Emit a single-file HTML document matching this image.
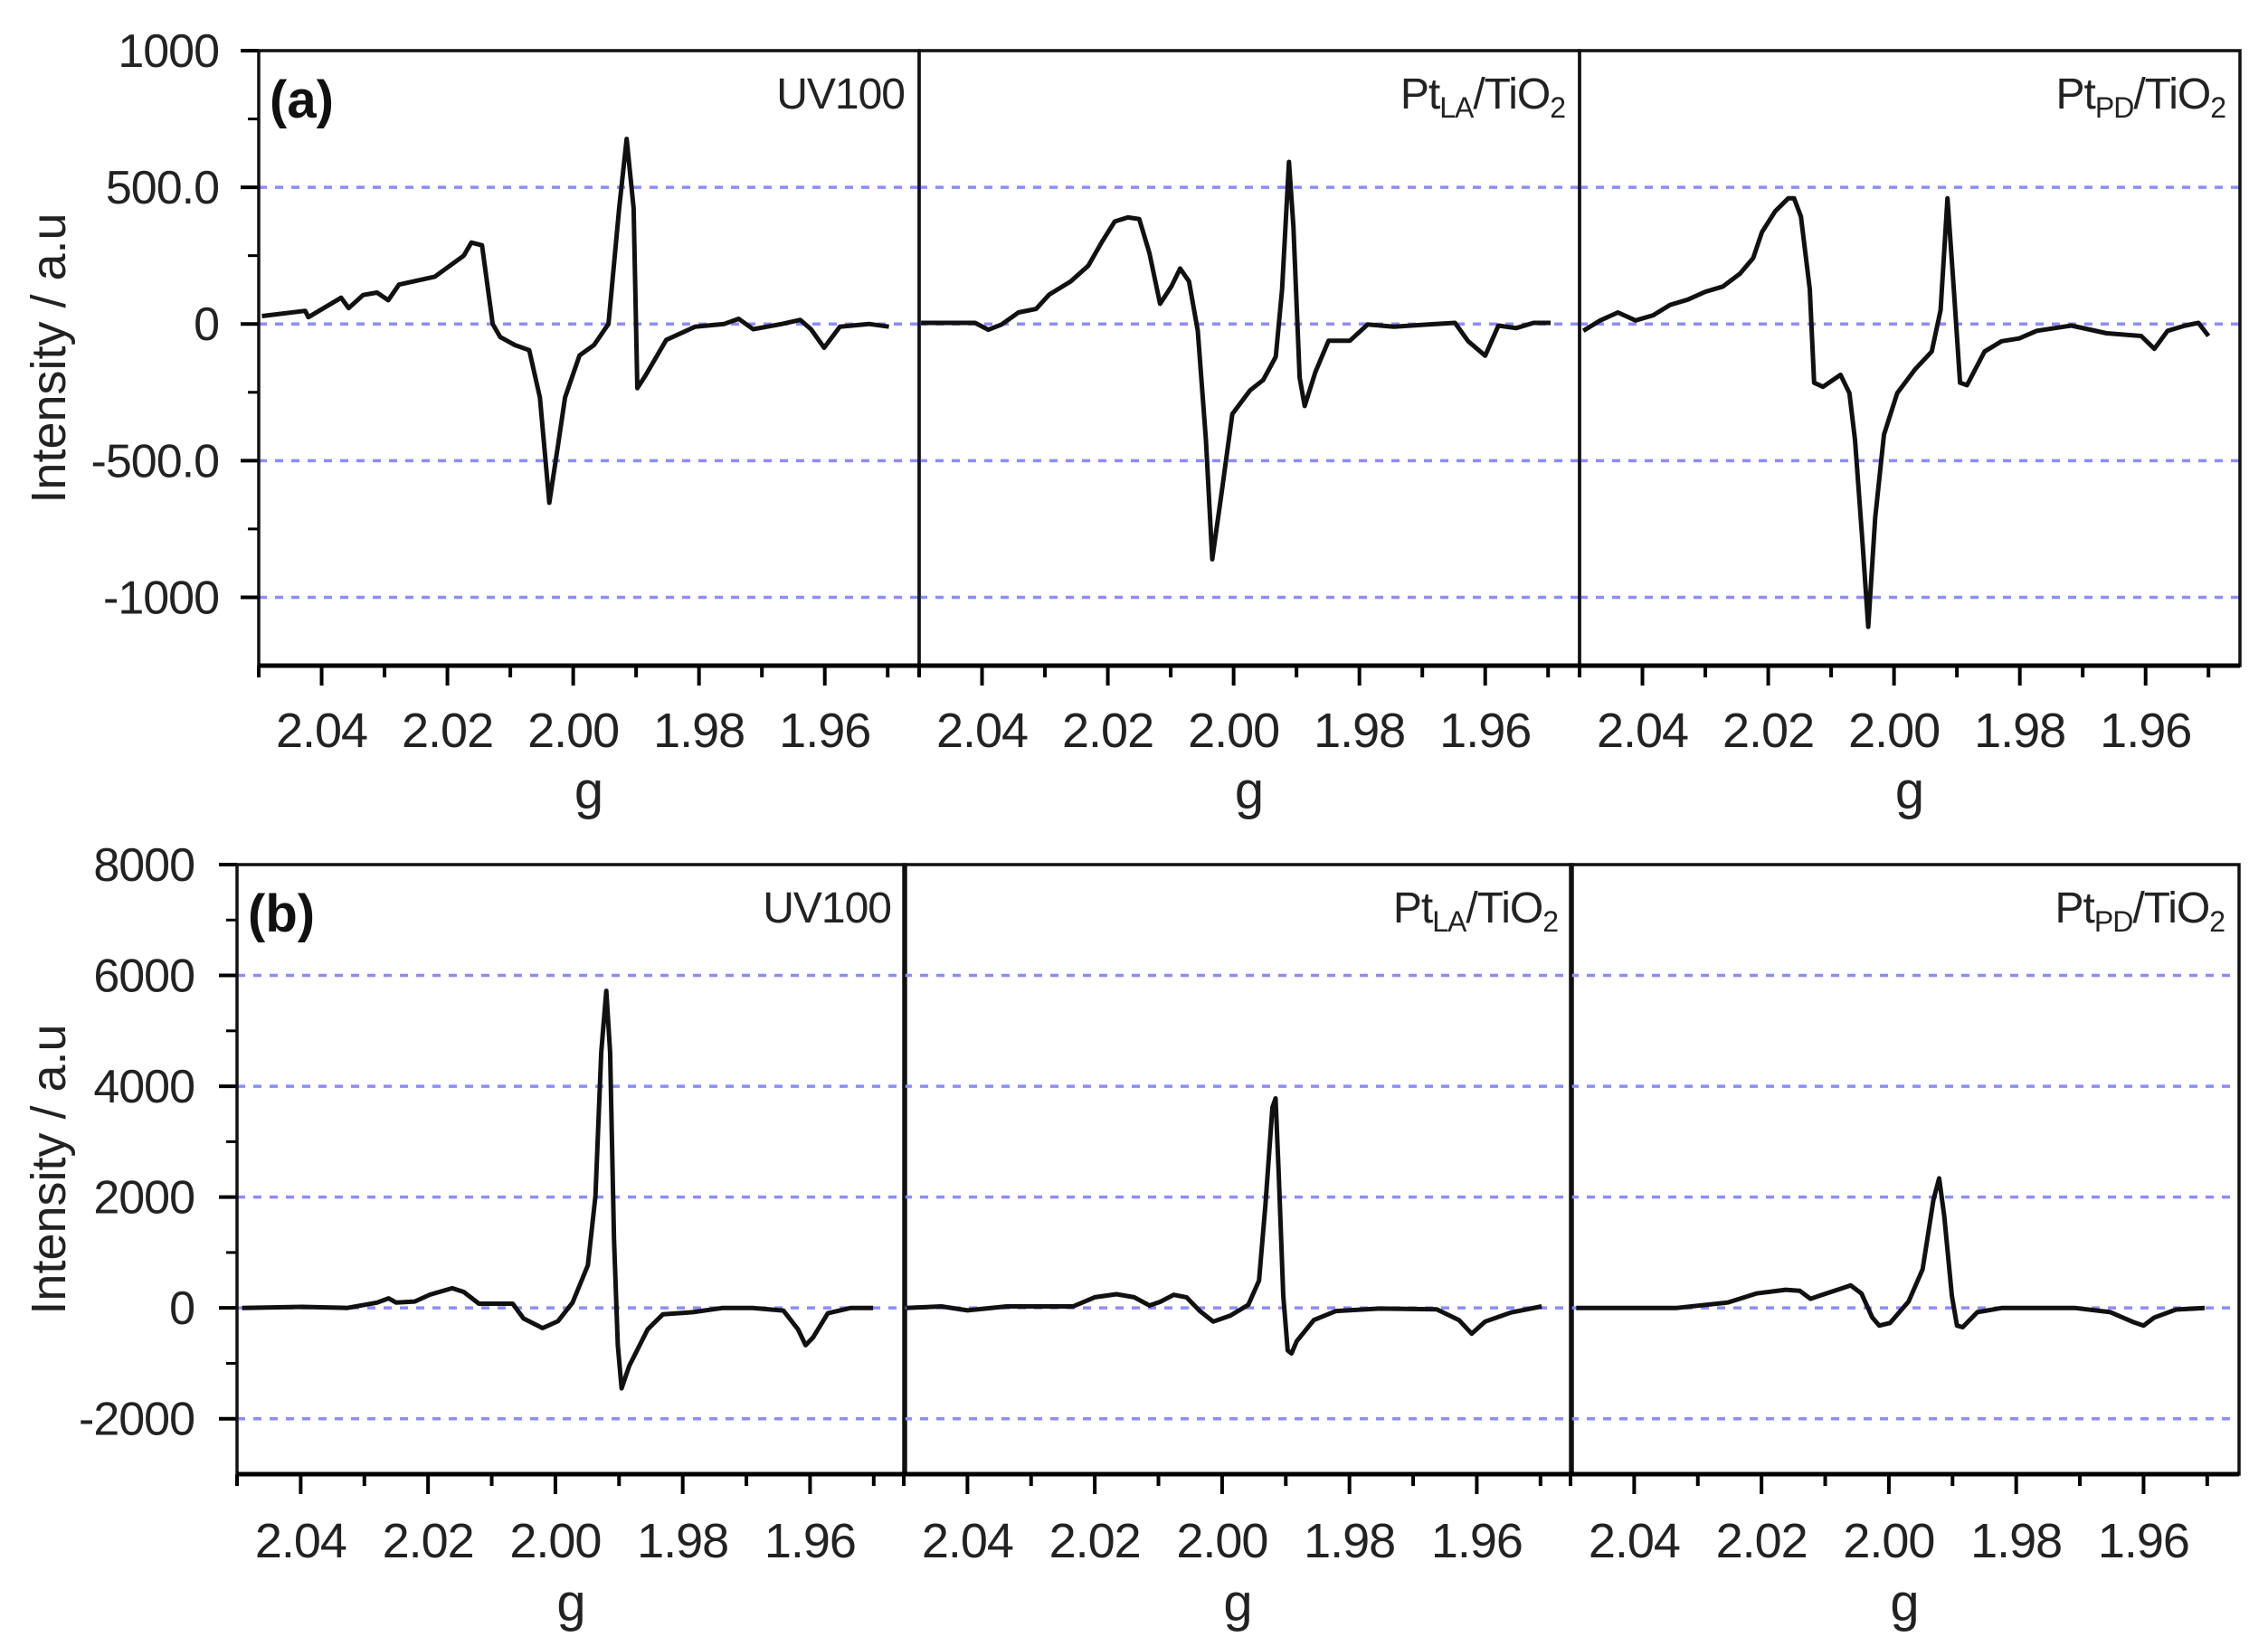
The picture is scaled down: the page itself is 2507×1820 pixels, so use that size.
<!DOCTYPE html>
<html><head><meta charset="utf-8"><style>
html,body{margin:0;padding:0;background:#fff;}
svg{display:block;font-family:"Liberation Sans",Arial,sans-serif;}
</style></head><body>
<svg id="fig" width="2507" height="1820" viewBox="0 0 2507 1820" xmlns="http://www.w3.org/2000/svg"></svg>
<script>
// ---- data ----
const gTicks = [2.04, 2.02, 2.00, 1.98, 1.96];
const gTickLabels = ["2.04", "2.02", "2.00", "1.98", "1.96"];
const aYTicks = [1000, 500, 0, -500, -1000];
const aYTickLabels = ["1000", "500.0", "0", "-500.0", "-1000"];
const aGrid = [500, 0, -500, -1000];
const bYTicks = [8000, 6000, 4000, 2000, 0, -2000];
const bYTickLabels = ["8000", "6000", "4000", "2000", "0", "-2000"];
const bGrid = [6000, 4000, 2000, 0, -2000];
const sampleNames = ["UV100", "PtLA", "PtPD"];

const aUV100_g = [2.0495,2.0426,2.0421,2.0369,2.0357,2.0334,2.0312,2.0294,2.0277,2.0220,2.0174,2.0162,2.0145,2.0128,2.0116,2.0093,2.0070,2.0053,2.0038,2.0024,2.0013,1.9990,1.9967,1.9944,1.9927,1.9915,1.9904,1.9898,1.9886,1.9852,1.9806,1.9760,1.9737,1.9714,1.9668,1.9639,1.9622,1.9601,1.9576,1.9530,1.9498];
const aUV100_v = [29,48,25,96,58,106,115,87,144,173,250,298,288,0,-48,-77,-96,-269,-654,-442,-269,-115,-77,0,423,677,423,-235,-192,-58,-10,0,19,-19,0,15,-19,-87,-10,0,-10];
const aPtLA_g = [2.0497,2.0411,2.0390,2.0369,2.0342,2.0314,2.0293,2.0259,2.0231,2.0210,2.0189,2.0168,2.0150,2.0134,2.0117,2.0099,2.0085,2.0071,2.0057,2.0044,2.0034,2.0020,2.0002,1.9974,1.9953,1.9933,1.9923,1.9912,1.9905,1.9895,1.9887,1.9870,1.9849,1.9815,1.9787,1.9745,1.9690,1.9648,1.9627,1.9600,1.9579,1.9551,1.9523,1.9496];
const aPtLA_v = [4,4,-21,-2,42,55,108,156,213,298,375,390,384,260,74,137,203,156,-25,-424,-861,-633,-329,-243,-205,-120,127,593,357,-196,-300,-176,-61,-61,-2,-10,-2,4,-63,-116,-6,-15,4,4];
const aPtPD_g = [2.0494,2.0467,2.0439,2.0411,2.0383,2.0356,2.0328,2.0300,2.0272,2.0245,2.0224,2.0210,2.0189,2.0168,2.0159,2.0148,2.0134,2.0127,2.0113,2.0085,2.0071,2.0062,2.0050,2.0041,2.0030,2.0016,1.9995,1.9967,1.9940,1.9926,1.9915,1.9905,1.9895,1.9884,1.9856,1.9829,1.9801,1.9773,1.9718,1.9662,1.9607,1.9586,1.9565,1.9537,1.9516,1.9500];
const aPtPD_v = [-25,13,42,13,32,70,89,118,137,184,241,336,412,460,460,393,127,-215,-230,-186,-253,-424,-805,-1108,-709,-405,-253,-167,-101,51,460,127,-215,-224,-101,-63,-53,-25,-6,-34,-44,-91,-25,-6,4,-44];

const bUV100_g = [2.0492,2.0398,2.0327,2.0280,2.0262,2.0250,2.0221,2.0197,2.0162,2.0144,2.0120,2.0067,2.0050,2.0020,1.9996,1.9973,1.9949,1.9937,1.9928,1.9920,1.9914,1.9908,1.9902,1.9896,1.9884,1.9855,1.9831,1.9784,1.9737,1.9690,1.9642,1.9619,1.9607,1.9595,1.9572,1.9536,1.9501];
const bUV100_v = [0,19,0,96,173,96,115,240,356,288,77,77,-192,-365,-240,96,769,2019,4615,5721,4615,1250,-673,-1452,-1048,-385,-115,-77,0,0,-48,-385,-673,-529,-96,0,0];
const bPtLA_g = [2.0496,2.0441,2.0400,2.0338,2.0234,2.0200,2.0166,2.0138,2.0114,2.0097,2.0076,2.0056,2.0035,2.0014,1.9987,1.9959,1.9942,1.9932,1.9921,1.9916,1.9911,1.9904,1.9897,1.9891,1.9883,1.9856,1.9821,1.9752,1.9663,1.9628,1.9608,1.9587,1.9546,1.9498];
const bPtLA_v = [0,27,-44,27,27,192,247,192,44,110,236,192,-55,-247,-137,55,493,1863,3617,3781,2411,219,-767,-822,-603,-219,-55,-11,-27,-219,-466,-247,-82,27];
const bPtPD_g = [2.0491,2.0333,2.0253,2.0208,2.0162,2.0140,2.0123,2.0106,2.0060,2.0043,2.0026,2.0015,1.9998,1.9969,1.9947,1.9930,1.9921,1.9913,1.9901,1.9893,1.9884,1.9861,1.9822,1.9708,1.9652,1.9617,1.9600,1.9583,1.9549,1.9504];
const bPtPD_v = [0,0,97,261,328,309,164,232,406,261,-174,-319,-271,116,696,1952,2338,1662,213,-319,-348,-77,0,0,-77,-251,-319,-174,-29,0];

// ---- drawing ----
const NS = "http://www.w3.org/2000/svg";
const svg = document.getElementById("fig");
function mk(tag, attrs, parent){
  const e = document.createElementNS(NS, tag);
  for (const k in attrs) e.setAttribute(k, attrs[k]);
  (parent||svg).appendChild(e);
  return e;
}
const G0 = 2.05, G1 = 1.945;

function drawRow(cfg){
  const {lefts, width, top, bottom, ymin, ymax, yTicks, yLabels, grid, series, tag, ylabX, ylabRight, xlabBase, gBase} = cfg;
  const yS = v => bottom - (v - ymin) / (ymax - ymin) * (bottom - top);
  const right = lefts[lefts.length-1] + width;
  const row = mk("g", {});
  
  
  yTicks.forEach((v, i) => {
    const t = mk("line", {x1: lefts[0]-20, x2: lefts[0], y1: yS(v), y2: yS(v), stroke: "#000", "stroke-width": 4}, row);
    
    
    const tx = mk("text", {x: ylabRight, y: yS(v) + 18, "font-size": 52, "text-anchor": "end", fill: "#222", "letter-spacing": "-1"}, row);
    tx.textContent = yLabels[i];
    
    
    if (i < yTicks.length - 1) {
      const mv = (v + yTicks[i+1]) / 2;
      const m = mk("line", {x1: lefts[0]-12, x2: lefts[0], y1: yS(mv), y2: yS(mv), stroke: "#000", "stroke-width": 3}, row);
      
      
    }
  });
  const lastMinor = yTicks[yTicks.length-1] - (yTicks[0]-yTicks[1])/2;
  if (lastMinor > ymin) {
    const m = mk("line", {x1: lefts[0]-12, x2: lefts[0], y1: yS(lastMinor), y2: yS(lastMinor), stroke: "#000", "stroke-width": 3}, row);
    
    
  }
  const yt = mk("text", {x: 0, y: 0, "font-size": 54, "text-anchor": "middle", fill: "#222", transform: `translate(${ylabX},${(top+bottom)/2}) rotate(-90)`}, row);
  yt.textContent = "Intensity / a.u";
  
  

  lefts.forEach((L, p) => {
    const xS = g => L + (G0 - g) / (G0 - G1) * width;
    const pan = mk("g", {}, row);
    
    
    grid.forEach(v => {
      const gl = mk("line", {x1: L, x2: L+width, y1: yS(v), y2: yS(v), stroke: "#8c8cff", "stroke-width": 3.5, "stroke-dasharray": "9 9"}, pan);
      
      
    });
    for (let k = 0; k <= 10; k++) {
      const g = 2.05 - k * 0.01;
      const major = (k % 2 === 1);
      const t = mk("line", {x1: xS(g), x2: xS(g), y1: bottom, y2: bottom + (major ? 22 : 13), stroke: "#000", "stroke-width": 4}, pan);
      
      
    }
    gTicks.forEach((g, i) => {
      const tx = mk("text", {x: xS(g), y: xlabBase, "font-size": 54, "text-anchor": "middle", fill: "#222", "letter-spacing": "-1"}, pan);
      tx.textContent = gTickLabels[i];
      
      
    });
    const gt = mk("text", {x: L + width/2, y: gBase, "font-size": 58, "text-anchor": "middle", fill: "#222"}, pan);
    gt.textContent = "g";
    
    
    const s = series[p];
    let d = "";
    s.g.forEach((g, i) => { d += (i ? "L" : "M") + xS(g).toFixed(1) + "," + yS(s.v[i]).toFixed(1); });
    const path = mk("path", {d: d, fill: "none", stroke: "#111", "stroke-width": 5, "stroke-linejoin": "round"}, pan);
    
    
    const lab = mk("text", {x: L + width - 16, y: top + 64, "font-size": 48, "text-anchor": "end", fill: "#222", "letter-spacing": "-1"}, pan);
    
    
    if (p === 0) lab.textContent = "UV100";
    else {
      const sub = p === 1 ? "LA" : "PD";
      lab.innerHTML = `Pt<tspan font-size="32" dy="10">${sub}</tspan><tspan dy="-10">/TiO</tspan><tspan font-size="32" dy="10">2</tspan>`;
    }
    if (p === 0) {
      const pl = mk("text", {x: L + 12, y: top + 74, "font-size": 58, "font-weight": "bold", fill: "#111"}, pan);
      pl.textContent = "(" + tag + ")";
      
      
    }
    const fr = mk("rect", {x: L, y: top, width: width, height: bottom - top, fill: "none", stroke: "#111", "stroke-width": 3.5}, pan);
    
    
  });
  const ax = mk("line", {x1: lefts[0], x2: right, y1: bottom, y2: bottom, stroke: "#000", "stroke-width": 5}, row);
  
  
}

drawRow({lefts: [286, 1016, 1746], width: 730, top: 56, bottom: 736, ymin: -1250, ymax: 1000,
  yTicks: aYTicks, yLabels: aYTickLabels, grid: aGrid, tag: "a", ylabX: 72, ylabRight: 242, xlabBase: 826, gBase: 894,
  series: [{g: aUV100_g, v: aUV100_v}, {g: aPtLA_g, v: aPtLA_v}, {g: aPtPD_g, v: aPtPD_v}]});
drawRow({lefts: [262, 999, 1736], width: 739, top: 956, bottom: 1630, ymin: -3000, ymax: 8000,
  yTicks: bYTicks, yLabels: bYTickLabels, grid: bGrid, tag: "b", ylabX: 72, ylabRight: 215, xlabBase: 1722, gBase: 1792,
  series: [{g: bUV100_g, v: bUV100_v}, {g: bPtLA_g, v: bPtLA_v}, {g: bPtPD_g, v: bPtPD_v}]});
</script>
</body></html>
